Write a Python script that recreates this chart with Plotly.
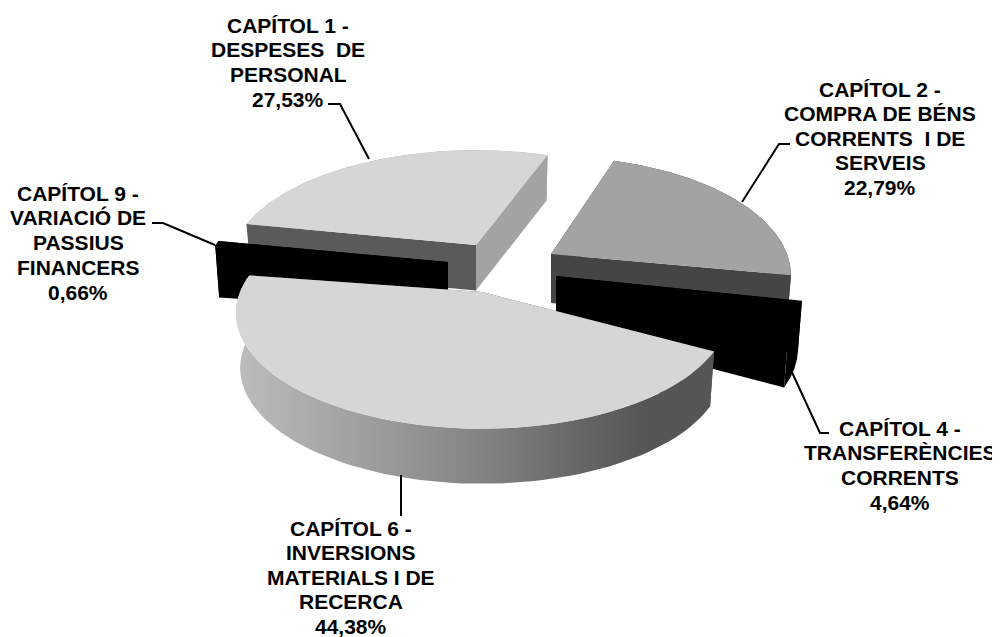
import numpy as np
import plotly.graph_objects as go

# chart values, percent of total, in drawing order round the pie (clockwise)
chapters = ["CAPÍTOL 6", "CAPÍTOL 9", "CAPÍTOL 1", "CAPÍTOL 2", "CAPÍTOL 4"]
shares = [44.38, 0.66, 27.53, 22.79, 4.64]
label_lines = [
    ["CAPÍTOL 6 -", "INVERSIONS", "MATERIALS I DE", "RECERCA"],
    ["CAPÍTOL 9 -", "VARIACIÓ DE", "PASSIUS", "FINANCERS"],
    ["CAPÍTOL 1 -", "DESPESES  DE", "PERSONAL"],
    ["CAPÍTOL 2 -", "COMPRA DE BÉNS", "CORRENTS  I DE", "SERVEIS"],
    ["CAPÍTOL 4 -", "TRANSFERÈNCIES", "CORRENTS"],
]

# pie projection: flat disc seen from above with some perspective
START_DEG = 29.0
RX, RY, PERSP = 242.0, 112.0, 0.181
BASE_SHRINK = 0.983

# per slice look: exploded centre, wall height, colours, label anchor
style = {
    "CAPÍTOL 6": dict(apex=(482, 292), h=55, top="#d6d6d6", wall="#555555", cut=("#555555", "#555555"),
                      label=(351, 528), gap=24.5),
    "CAPÍTOL 9": dict(apex=(448, 262), h=52, top="#000000", wall="#000000", cut=("#000000", "#000000"),
                      label=(78, 193), gap=24.8),
    "CAPÍTOL 1": dict(apex=(476, 245), h=45.5, top="#d6d6d6", wall="#a3a3a3", cut=("#5a5a5a", "#a3a3a3"),
                      label=(288, 25), gap=24.8),
    "CAPÍTOL 2": dict(apex=(551, 254), h=49, top="#a3a3a3", wall="#454545", cut=("#454545", "#454545"),
                      label=(880, 89), gap=24.6, rx=236, ry=115, turn=-2),
    "CAPÍTOL 4": dict(apex=(556, 276), h=52, top="#000000", wall="#000000", cut=("#000000", "#000000"),
                      label=(900, 428), gap=24.7),
}
paint_order = ["CAPÍTOL 1", "CAPÍTOL 2", "CAPÍTOL 9", "CAPÍTOL 4", "CAPÍTOL 6"]

leaders = [
    [(328, 104), (340, 104), (369, 159)],
    [(152, 223), (163, 223), (215, 245)],
    [(790, 144), (779, 144), (742, 202)],
    [(790, 368), (820, 433), (829, 433)],
    [(401, 475), (401, 516)],
]

# the page body has an 8px margin, so the plot is 8px smaller and its axes start at 8
PAGE_W, PAGE_H, BODY = 1000, 637, 8


def project(deg, st, scale=1.0, drop=0.0):
    t = np.radians(deg + st.get("turn", 0))
    u, v = np.cos(t), np.sin(t)
    s = 1 / (1 - PERSP * v)
    return (st["apex"][0] + scale * st.get("rx", RX) * u * s,
            st["apex"][1] + st.get("ry", RY) * v * s + drop)


def poly(x, y, color, **kw):
    return go.Scatter(x=list(x), y=list(y), mode="lines", fill="toself", fillcolor=color,
                      line=dict(width=0), hoverinfo="skip", showlegend=False, **kw)


edges = START_DEG + np.concatenate([[0], np.cumsum(shares)]) * 3.6
spans = {c: (edges[i], edges[i + 1]) for i, c in enumerate(chapters)}

fig = go.Figure()
for name in paint_order:
    st = style[name]
    a0, a1 = spans[name]
    ang = np.linspace(a0, a1, 80)
    tx, ty = project(ang, st)
    bx, by = project(ang, st, BASE_SHRINK, st["h"])

    # outer wall, the big slice gets the shaded front
    xs = np.concatenate([tx, bx[::-1]])
    ys = np.concatenate([ty, by[::-1]])
    if name == "CAPÍTOL 6":
        fig.add_trace(go.Scatter(
            x=list(xs), y=list(ys), mode="lines", fill="toself", line=dict(width=0),
            fillgradient=dict(type="horizontal", colorscale=[
                [0, "#bcbcbc"], [0.35, "#969696"], [0.5, "#858585"], [0.72, "#666666"],
                [0.85, "#565656"], [1, "#555555"]]),
            hoverinfo="skip", showlegend=False))
    else:
        fig.add_trace(poly(xs, ys, st["wall"]))

    # the two cut faces
    ax, ay = st["apex"]
    for edge, col in zip((a0, a1), st["cut"]):
        ex, ey = project(edge, st)
        fx, fy = project(edge, st, BASE_SHRINK, st["h"])
        fig.add_trace(poly([ax, ex, fx, ax, ax], [ay, ey, fy, ay + st["h"], ay], col))

    # top face
    fig.add_trace(poly(np.concatenate([[ax], tx, [ax]]), np.concatenate([[ay], ty, [ay]]), st["top"]))

for pts in leaders:
    fig.add_trace(go.Scatter(x=[p[0] for p in pts], y=[p[1] for p in pts], mode="lines",
                             line=dict(color="#000000", width=2), hoverinfo="skip", showlegend=False))

# labels go line by line, the original leading is tighter than plotly's <br>
for name, lines, val in zip(chapters, label_lines, shares):
    st = style[name]
    pct = f"{val:.2f}".replace(".", ",") + "%"
    for i, txt in enumerate(lines + [pct]):
        fig.add_annotation(x=st["label"][0], y=st["label"][1] + i * st["gap"], text=txt.replace("  ", "\u00a0\u00a0"),
                           showarrow=False, xanchor="center", yanchor="middle",
                           font=dict(family="Liberation Sans", size=21, color="#000000", weight="bold"))

fig.update_layout(width=PAGE_W - BODY, height=PAGE_H - BODY, margin=dict(l=0, r=0, t=0, b=0),
                  paper_bgcolor="#ffffff", plot_bgcolor="#ffffff", showlegend=False)
fig.update_xaxes(range=[BODY, PAGE_W], visible=False)
fig.update_yaxes(range=[PAGE_H, BODY], visible=False)

fig.write_html("out.html")
